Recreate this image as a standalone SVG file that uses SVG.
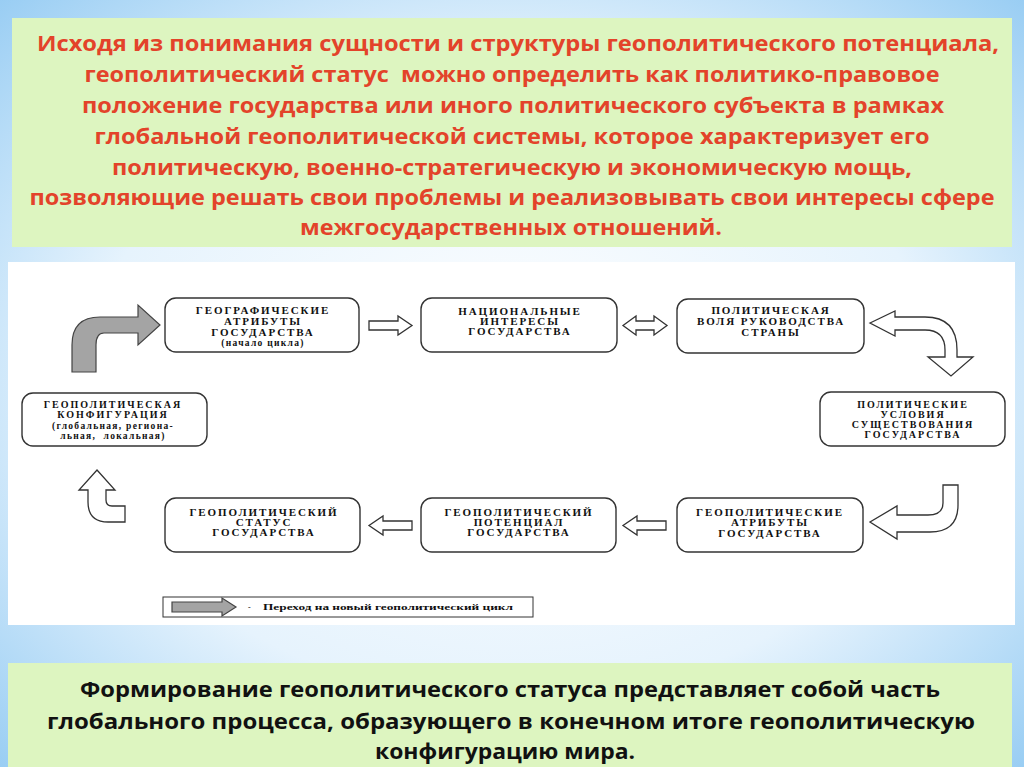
<svg xmlns="http://www.w3.org/2000/svg" width="1024" height="767" viewBox="0 0 1024 767">
<defs>
<radialGradient id="bg" cx="50%" cy="50%" r="75%">
<stop offset="0" stop-color="#ffffff"/>
<stop offset="0.55" stop-color="#e6f3fd"/>
<stop offset="1" stop-color="#8ec8f2"/>
</radialGradient>
<style>
.hdr{font-family:"Open Sans","Liberation Sans",sans-serif;font-weight:bold;font-size:21px;text-anchor:middle}
.red{fill:#e3432a}
.blk{fill:#111}
.node rect{fill:#fff;stroke:#333;stroke-width:1.4}
.node text{font-family:"Liberation Serif",serif;font-weight:bold;font-size:11px;letter-spacing:1.9px;text-anchor:middle;fill:#111}
.node text.t{font-size:10px;letter-spacing:2px}
.node text.small{font-size:9.5px;letter-spacing:1.3px}
.out{fill:#fff;stroke:#333;stroke-width:1.3;stroke-linejoin:miter}
.grey{fill:#a4a4a4;stroke:#444;stroke-width:1.2}
</style>
</defs>
<rect x="0" y="0" width="1024" height="767" fill="url(#bg)"/>

<g id="top-text">
<rect x="12" y="18" width="1000" height="229" fill="#ddf5c0"/>
<text class="hdr red" x="518" y="51" textLength="962" lengthAdjust="spacingAndGlyphs">Исходя из понимания сущности и структуры геополитического потенциала,</text>
<text class="hdr red" x="512" y="82" textLength="855" lengthAdjust="spacingAndGlyphs" xml:space="preserve">геополитический статус  можно определить как политико-правовое</text>
<text class="hdr red" x="513" y="113" textLength="862" lengthAdjust="spacingAndGlyphs">положение государства или иного политического субъекта в рамках</text>
<text class="hdr red" x="512" y="144" textLength="835" lengthAdjust="spacingAndGlyphs">глобальной геополитической системы, которое характеризует его</text>
<text class="hdr red" x="512" y="175" textLength="800" lengthAdjust="spacingAndGlyphs">политическую, военно-стратегическую и экономическую мощь,</text>
<text class="hdr red" x="512" y="205" textLength="965" lengthAdjust="spacingAndGlyphs">позволяющие решать свои проблемы и реализовывать свои интересы сфере</text>
<text class="hdr red" x="511" y="235" textLength="422" lengthAdjust="spacingAndGlyphs">межгосударственных отношений.</text>
</g>

<rect x="8" y="262" width="1007" height="363" fill="#ffffff"/>

<g id="n1" class="node">
<rect x="165" y="298" width="194" height="54" rx="11"/>
<text x="263" y="314">ГЕОГРАФИЧЕСКИЕ</text>
<text x="263" y="325">АТРИБУТЫ</text>
<text x="263" y="336">ГОСУДАРСТВА</text>
<text class="small" x="263" y="346">(начало цикла)</text>
</g>
<g id="n2" class="node">
<rect x="421" y="298" width="196" height="54" rx="11"/>
<text x="520" y="315">НАЦИОНАЛЬНЫЕ</text>
<text x="520" y="325">ИНТЕРЕСЫ</text>
<text x="520" y="335">ГОСУДАРСТВА</text>
</g>
<g id="n3" class="node">
<rect x="677" y="299" width="187" height="54" rx="11"/>
<text x="771" y="314">ПОЛИТИЧЕСКАЯ</text>
<text x="771" y="325">ВОЛЯ РУКОВОДСТВА</text>
<text x="771" y="336">СТРАНЫ</text>
</g>
<g id="n4" class="node">
<rect x="22" y="393" width="185" height="53" rx="11"/>
<text class="t" x="113" y="408">ГЕОПОЛИТИЧЕСКАЯ</text>
<text class="t" x="113" y="418">КОНФИГУРАЦИЯ</text>
<text class="small" x="113" y="429">(глобальная, регионa-</text>
<text class="small" x="113" y="439" xml:space="preserve">льная,  локальная)</text>
</g>
<g id="n5" class="node">
<rect x="820" y="392" width="185" height="54" rx="11"/>
<text class="t" x="913" y="408">ПОЛИТИЧЕСКИЕ</text>
<text class="t" x="913" y="418">УСЛОВИЯ</text>
<text class="t" x="913" y="428">СУЩЕСТВОВАНИЯ</text>
<text class="t" x="913" y="438">ГОСУДАРСТВА</text>
</g>
<g id="n6" class="node">
<rect x="165" y="498" width="195" height="54" rx="11"/>
<text x="264" y="516">ГЕОПОЛИТИЧЕСКИЙ</text>
<text x="264" y="526">СТАТУС</text>
<text x="264" y="536">ГОСУДАРСТВА</text>
</g>
<g id="n7" class="node">
<rect x="421" y="498" width="195" height="54" rx="11"/>
<text x="519" y="516">ГЕОПОЛИТИЧЕСКИЙ</text>
<text x="519" y="526">ПОТЕНЦИАЛ</text>
<text x="519" y="536">ГОСУДАРСТВА</text>
</g>
<g id="n8" class="node">
<rect x="677" y="498" width="186" height="54" rx="11"/>
<text x="770" y="516">ГЕОПОЛИТИЧЕСКИЕ</text>
<text x="770" y="526">АТРИБУТЫ</text>
<text x="770" y="537">ГОСУДАРСТВА</text>
</g>

<g id="connectors">
<path class="out" d="M369 321 L398 321 L398 316 L412 325.5 L398 335 L398 330 L369 330 Z"/>
<path class="out" d="M623 325.5 L636 316 L636 321 L654 321 L654 316 L667 325.5 L654 335 L654 330 L636 330 L636 335 Z"/>
<path class="out" d="M870 323 L895 311 L895 317 L925 317 Q957 317 957 350 L957 357 L973 357 L951 376 L928 357 L945 357 L945 350 Q945 330 925 330 L895 330 L895 336 Z"/>
<path class="out" d="M943 485 L958 485 L958 505 Q958 532 930 532 L897 532 L897 539 L870 522 L897 506 L897 515 L928 515 Q943 515 943 503 Z"/>
<path class="out" d="M412 521 L383 521 L383 516 L369 525.5 L383 535 L383 530 L412 530 Z"/>
<path class="out" d="M666 521 L637 521 L637 516 L623 525.5 L637 535 L637 530 L666 530 Z"/>
<path class="out" d="M97 470 L115 490 L106 490 L106 500 Q106 506 112 506 L125 506 L125 522 L108 522 Q88 522 88 502 L88 490 L79 490 Z"/>
<path class="grey" d="M72 372 L72 345 Q72 317 100 317 L138 317 L138 305 L160 325 L138 345 L138 333 L104 333 Q96 333 96 345 L96 372 Z"/>
</g>

<g id="legend">
<rect x="163" y="597" width="370" height="20" fill="#fff" stroke="#333" stroke-width="1"/>
<path class="grey" d="M172 602 L222 602 L222 598 L236 607 L222 616 L222 612 L172 612 Z"/>
<text x="248" y="610" font-family="Liberation Serif,serif" font-size="8" fill="#111">-</text>
<text x="263" y="610" font-family="Liberation Serif,serif" font-size="8.5" font-weight="bold" fill="#111" textLength="250" lengthAdjust="spacingAndGlyphs">Переход на новый геополитический цикл</text>
</g>

<g id="bottom-text">
<rect x="8" y="663" width="1004" height="104" fill="#ddf5c0"/>
<text class="hdr blk" x="510" y="697" textLength="860" lengthAdjust="spacingAndGlyphs">Формирование геополитического статуса представляет собой часть</text>
<text class="hdr blk" x="511" y="729" textLength="928" lengthAdjust="spacingAndGlyphs">глобального процесса, образующего в конечном итоге геополитическую</text>
<text class="hdr blk" x="505" y="759" textLength="260" lengthAdjust="spacingAndGlyphs">конфигурацию мира.</text>
</g>
</svg>
